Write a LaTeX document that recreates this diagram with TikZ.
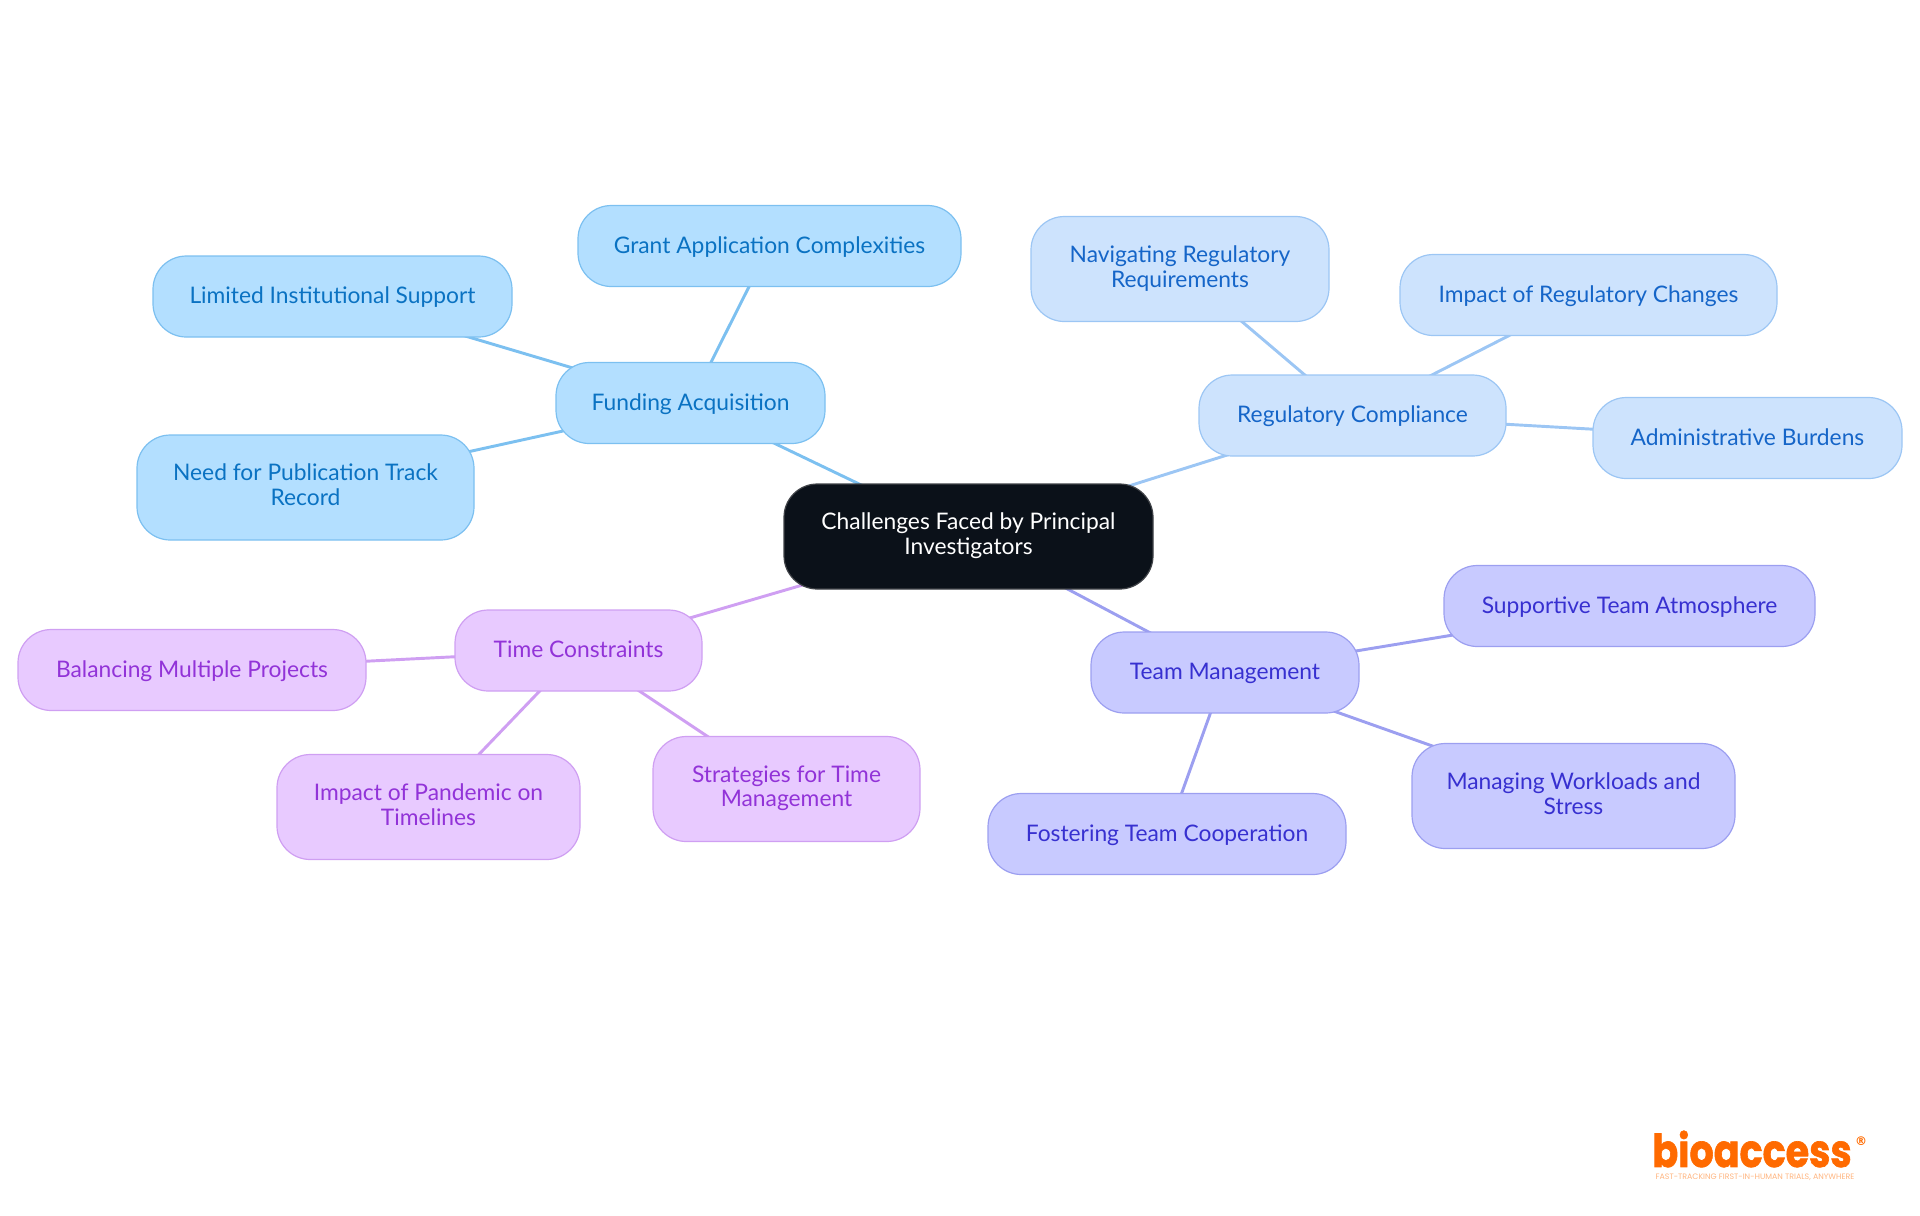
\documentclass[tikz,border=0pt]{standalone}
\usepackage{fontspec}
\setmainfont{Lato}
\newfontfamily\logofont[BoldFeatures={FakeBold=1.5}]{Poppins}
\newfontfamily\markfont{DejaVu Sans}
\usetikzlibrary{backgrounds}
\definecolor{rootfill}{HTML}{0B1119}
\definecolor{rootline}{HTML}{3F4247}
\definecolor{fundfill}{HTML}{B3DFFF}
\definecolor{fundline}{HTML}{7CC0F0}
\definecolor{fundtext}{HTML}{0A72C2}
\definecolor{regfill}{HTML}{CDE3FD}
\definecolor{regline}{HTML}{9CC6F4}
\definecolor{regtext}{HTML}{1565C8}
\definecolor{teamfill}{HTML}{C8CAFF}
\definecolor{teamline}{HTML}{9C9FF0}
\definecolor{teamtext}{HTML}{3730D0}
\definecolor{timefill}{HTML}{E8CAFF}
\definecolor{timeline}{HTML}{CF9FF2}
\definecolor{timetext}{HTML}{9233D8}
\definecolor{logoorange}{HTML}{FF6A00}
\newcommand{\pillstrut}{\rule[-4pt]{0pt}{19pt}}
\tikzset{every picture/.style={line width=0.75pt}}
\tikzset{
	pill/.style={draw,rounded corners=25pt,align=center,inner sep=0pt,font=\fontsize{17.1}{18.4}\selectfont,line width=0.9pt,execute at begin node=\pillstrut,execute at end node=\pillstrut},
	twoline/.style={execute at begin node={\vspace*{2pt}\pillstrut}},
	rootpill/.style={pill,fill=rootfill,draw=rootline,text=white},
	fundpill/.style={pill,fill=fundfill,draw=fundline,text=fundtext},
	regpill/.style={pill,fill=regfill,draw=regline,text=regtext},
	teampill/.style={pill,fill=teamfill,draw=teamline,text=teamtext},
	timepill/.style={pill,fill=timefill,draw=timeline,text=timetext},
	fundlink/.style={draw=fundline,line width=2.2pt},
	reglink/.style={draw=regline,line width=2.2pt},
	teamlink/.style={draw=teamline,line width=2.2pt},
	timelink/.style={draw=timeline,line width=2.2pt}
}
\begin{document}
\begin{tikzpicture}[x=0.75pt,y=0.75pt,yscale=-1,xscale=1]
	\useasboundingbox (0,0) rectangle (1920,1215);

	% Root
	\node (root) at (968.5,536.5) [rootpill,twoline,minimum width=276.75pt,minimum height=78.75pt] {Challenges Faced by Principal\\Investigators};

	% Funding
	\node (funding) at (690.5,403) [fundpill,minimum width=201.75pt,minimum height=60.75pt] {Funding Acquisition};
	\node (grant) at (769.5,246) [fundpill,minimum width=287.25pt,minimum height=60.75pt] {Grant Application Complexities};
	\node (limited) at (332.5,296.5) [fundpill,minimum width=269.25pt,minimum height=60.75pt] {Limited Institutional Support};
	\node (publication) at (305.5,487.5) [fundpill,twoline,minimum width=252.75pt,minimum height=78.75pt] {Need for Publication Track\\Record};

	% Regulatory
	\node (regulatory) at (1352.5,415.5) [regpill,minimum width=230.25pt,minimum height=60.75pt] {Regulatory Compliance};
	\node (navigating) at (1180,269) [regpill,twoline,minimum width=223.5pt,minimum height=78.75pt] {Navigating Regulatory\\Requirements};
	\node (changes) at (1588.5,295) [regpill,minimum width=282.75pt,minimum height=60.75pt] {Impact of Regulatory Changes};
	\node (burdens) at (1747.5,438) [regpill,minimum width=231.75pt,minimum height=60.75pt] {Administrative Burdens};

	% Team
	\node (team) at (1225,672.5) [teampill,minimum width=201pt,minimum height=60.75pt] {Team Management};
	\node (atmosphere) at (1629.5,606) [teampill,minimum width=278.25pt,minimum height=60.75pt] {Supportive Team Atmosphere};
	\node (workloads) at (1573.5,796) [teampill,twoline,minimum width=242.25pt,minimum height=78.75pt] {Managing Workloads and\\Stress};
	\node (cooperation) at (1167,834) [teampill,minimum width=268.5pt,minimum height=60.75pt] {Fostering Team Cooperation};

	% Time
	\node (time) at (578.5,650.5) [timepill,minimum width=185.25pt,minimum height=60.75pt] {Time Constraints};
	\node (projects) at (192,670) [timepill,minimum width=261pt,minimum height=60.75pt] {Balancing Multiple Projects};
	\node (pandemic) at (428.5,807) [timepill,twoline,minimum width=227.25pt,minimum height=78.75pt] {Impact of Pandemic on\\Timelines};
	\node (strategies) at (786.5,789) [timepill,twoline,minimum width=200.25pt,minimum height=78.75pt] {Strategies for Time\\Management};

	% Links
	\begin{pgfonlayer}{background}
	\draw [fundlink] (root.center) -- (funding.center);
	\draw [fundlink] (funding.center) -- (grant.center);
	\draw [fundlink] (funding.center) -- (limited.center);
	\draw [fundlink] (funding.center) -- (publication.center);
	\draw [reglink] (root.center) -- (regulatory.center);
	\draw [reglink] (regulatory.center) -- (navigating.center);
	\draw [reglink] (regulatory.center) -- (changes.center);
	\draw [reglink] (regulatory.center) -- (burdens.center);
	\draw [teamlink] (root.center) -- (team.center);
	\draw [teamlink] (team.center) -- (atmosphere.center);
	\draw [teamlink] (team.center) -- (workloads.center);
	\draw [teamlink] (team.center) -- (cooperation.center);
	\draw [timelink] (root.center) -- (time.center);
	\draw [timelink] (time.center) -- (projects.center);
	\draw [timelink] (time.center) -- (pandemic.center);
	\draw [timelink] (time.center) -- (strategies.center);
	\end{pgfonlayer}

	% Logo
	\node (logo) at (1752,1149) [text=logoorange,inner sep=0pt,xscale=0.84,yscale=-1,transform shape,font=\logofont\bfseries\fontsize{34}{34}\selectfont] {bioaccess};
	\node (regmark) at (1861,1141) [text=logoorange,inner sep=0pt,font=\markfont\bfseries\fontsize{9}{9}\selectfont] {®};
	\node (tagline) at (1755,1177) [text=logoorange!50,inner sep=0pt,font=\logofont\fontsize{5.9}{6}\selectfont] {FAST-TRACKING FIRST-IN-HUMAN TRIALS, ANYWHERE};
\end{tikzpicture}
\end{document}
